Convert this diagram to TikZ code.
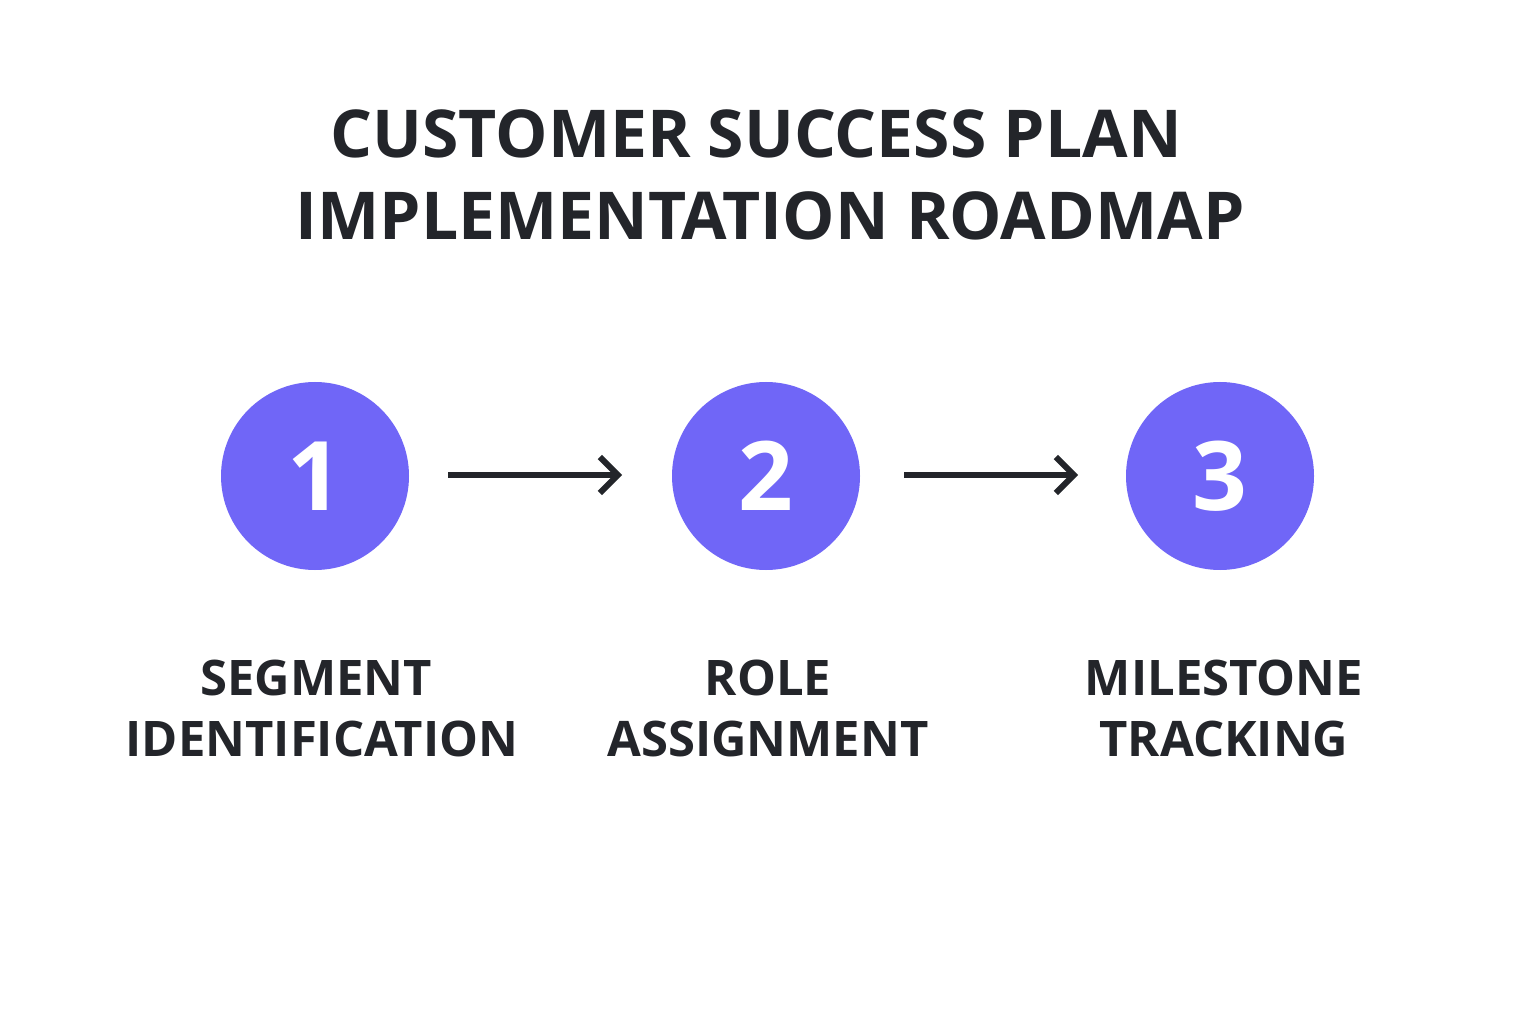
\documentclass[tikz,border=0pt]{standalone}
\usepackage{fontspec}
\setmainfont{Open Sans}
\usetikzlibrary{arrows.meta}
\definecolor{ink}{HTML}{23252A}
\definecolor{violet}{HTML}{7066F7}
\begin{document}
\begin{tikzpicture}[x=1pt,y=1pt,
  stepnode/.style={circle,fill=violet,minimum size=94pt,inner sep=0pt,text=white,font=\fontsize{48}{48}\selectfont\bfseries},
  title/.style={text=ink,font=\fontsize{33}{33}\selectfont\bfseries,anchor=base},
  lab/.style={text=ink,font=\fontsize{24.5}{24.5}\selectfont\bfseries,anchor=base},
  arr/.style={draw=ink,line width=3pt,-{Straight Barb[length=9pt,width=18pt,line width=3pt]}}]
\useasboundingbox[fill=white] (0,0) rectangle (768,512);
\node[title] (t1) at (378,433) {CUSTOMER SUCCESS PLAN};
\node[title] (t2) at (385,392) {IMPLEMENTATION ROADMAP};
\node[stepnode] (c1) at (157.5,274) {1};
\node[stepnode] (c2) at (383,274) {2};
\node[stepnode] (c3) at (610,274) {3};
\coordinate (a1s) at (224,274.5); \coordinate (a1e) at (311,274.5);
\coordinate (a2s) at (452,274.5); \coordinate (a2e) at (539,274.5);
\draw[arr] (a1s) -- (a1e);
\draw[arr] (a2s) -- (a2e);
\node[lab] (l1a) at (158,164.5) {SEGMENT};
\node[lab] (l1b) at (161,134) {IDENTIFICATION};
\node[lab] (l2a) at (384,164.5) {ROLE};
\node[lab] (l2b) at (384,134) {ASSIGNMENT};
\node[lab] (l3a) at (612,164.5) {MILESTONE};
\node[lab] (l3b) at (612,134) {TRACKING};
\end{tikzpicture}
\end{document}
